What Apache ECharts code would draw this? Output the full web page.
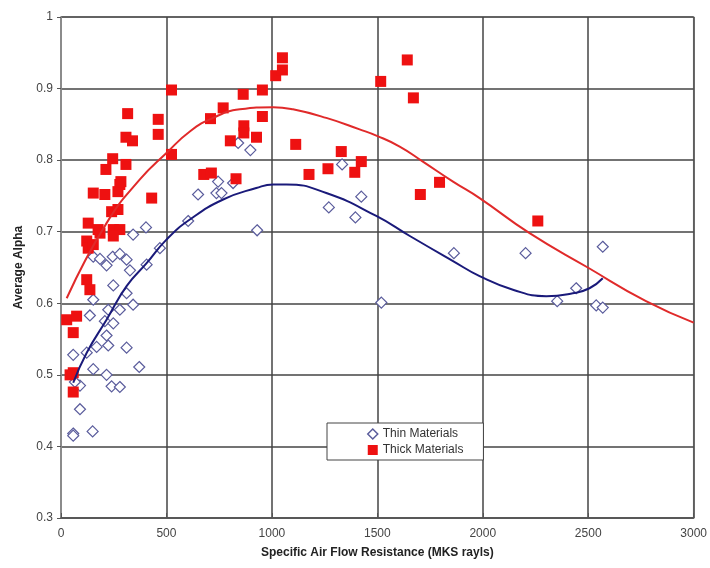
<!DOCTYPE html>
<html>
<head>
<meta charset="utf-8">
<script src="https://cdn.jsdelivr.net/npm/echarts@6/dist/echarts.min.js"></script>
<style>
  html, body { margin: 0; padding: 0; background: #fff; }
  #chart { width: 710px; height: 568px; }
</style>
</head>
<body>
<div id="chart"></div>
<script>
// Thin materials (hollow diamonds): [resistance, alpha]
var thinPoints = [
  [58, 0.528], [122, 0.531], [169, 0.539], [224, 0.541], [311, 0.538],
  [153, 0.508], [216, 0.500], [240, 0.484], [279, 0.483], [371, 0.511],
  [90, 0.485], [90, 0.452], [58, 0.418], [58, 0.415], [150, 0.421], [66, 0.490],
  [153, 0.605], [137, 0.583], [224, 0.591], [279, 0.591], [342, 0.598],
  [311, 0.614], [248, 0.625], [208, 0.575], [248, 0.572], [216, 0.555],
  [153, 0.665], [185, 0.662], [216, 0.653], [245, 0.665], [279, 0.669],
  [311, 0.661], [327, 0.646], [406, 0.654], [342, 0.696], [403, 0.706],
  [469, 0.677], [603, 0.715], [650, 0.752], [737, 0.754], [761, 0.754],
  [745, 0.770], [816, 0.768], [930, 0.702], [840, 0.824], [898, 0.814],
  [1333, 0.794], [1424, 0.749], [1270, 0.734], [1396, 0.720], [1863, 0.670],
  [1519, 0.601], [2203, 0.670], [2569, 0.679], [2443, 0.621], [2353, 0.603],
  [2538, 0.597], [2569, 0.594]
];

// Thick materials (filled squares)
var thickPoints = [
  [27, 0.577], [74, 0.582], [43, 0.500], [58, 0.503], [58, 0.476], [58, 0.559],
  [122, 0.633], [137, 0.619], [129, 0.712], [176, 0.703], [185, 0.698],
  [122, 0.687], [129, 0.677], [153, 0.682], [248, 0.703], [279, 0.703],
  [248, 0.694], [240, 0.728], [270, 0.731], [279, 0.766], [270, 0.756],
  [153, 0.754], [208, 0.752], [430, 0.747], [316, 0.865], [308, 0.832],
  [339, 0.827], [461, 0.857], [461, 0.836], [524, 0.898], [524, 0.808],
  [245, 0.802], [213, 0.787], [308, 0.794], [284, 0.770], [709, 0.858],
  [769, 0.873], [864, 0.892], [955, 0.898], [955, 0.861], [867, 0.848],
  [867, 0.838], [927, 0.832], [803, 0.827], [830, 0.774], [677, 0.780],
  [713, 0.782], [1018, 0.918], [1050, 0.943], [1050, 0.926], [1113, 0.822],
  [1329, 0.812], [1424, 0.798], [1393, 0.783], [1266, 0.788], [1176, 0.780],
  [1516, 0.910], [1642, 0.940], [1671, 0.887], [1795, 0.769], [1704, 0.752],
  [2261, 0.715]
];

// trend lines
var thinTrend = [
  [58, 0.489], [122, 0.531], [216, 0.577], [311, 0.624], [406, 0.656],
  [500, 0.689], [611, 0.717], [769, 0.745], [926, 0.761], [1006, 0.766],
  [1069, 0.766], [1258, 0.754], [1495, 0.722], [1654, 0.694], [1859, 0.659],
  [1985, 0.638], [2143, 0.619], [2301, 0.610], [2427, 0.614], [2506, 0.621],
  [2569, 0.635]
];
var thickTrend = [
  [27, 0.607], [216, 0.712], [374, 0.773], [500, 0.810], [611, 0.840],
  [721, 0.859], [848, 0.871], [1006, 0.874], [1100, 0.871], [1258, 0.859],
  [1416, 0.843], [1498, 0.834], [1606, 0.819], [1716, 0.798], [1859, 0.770],
  [1985, 0.747], [2222, 0.698], [2498, 0.650], [2774, 0.603], [3000, 0.573]
];

var chart = echarts.init(document.getElementById('chart'));
var option = {
  animation: false,
  textStyle: { fontFamily: 'Liberation Sans, Arial, sans-serif' },
  grid: { left: 61, right: 16, top: 17, bottom: 50, show: true, borderColor: '#aaa', borderWidth: 1.5 },
  legend: {
    left: 327, top: 423,
    orient: 'vertical',
    backgroundColor: '#fff',
    borderColor: '#444',
    borderWidth: 1,
    padding: [5, 20, 4, 40],
    itemGap: 4,
    itemWidth: 10, itemHeight: 10,
    textStyle: { fontSize: 12, color: '#333' },
    data: [
      { name: 'Thin Materials', icon: 'diamond', itemStyle: { color: '#fff', borderColor: '#5a5c9c', borderWidth: 1.5 } },
      { name: 'Thick Materials', icon: 'rect', itemStyle: { color: '#ee1111', opacity: 1 } }
    ]
  },
  xAxis: {
    type: 'value', min: 0, max: 3000, interval: 500,
    name: 'Specific Air Flow Resistance (MKS rayls)',
    nameLocation: 'middle', nameGap: 29,
    nameTextStyle: { fontSize: 12, fontWeight: 'bold', color: '#222' },
    axisLine: { show: true, lineStyle: { color: '#555', width: 1.5 } },
    axisTick: { show: true, inside: true, length: 5, lineStyle: { color: '#555' } },
    axisLabel: { fontSize: 12, color: '#444', margin: 10, formatter: function (v) { return String(v); } },
    splitLine: { show: true, lineStyle: { color: '#444', width: 1.5 } }
  },
  yAxis: {
    type: 'value', min: 0.3, max: 1, interval: 0.1,
    name: 'Average Alpha',
    nameLocation: 'middle', nameGap: 36,
    nameTextStyle: { fontSize: 12, fontWeight: 'bold', color: '#222' },
    axisLine: { show: true, lineStyle: { color: '#999', width: 1.5 } },
    axisTick: { show: true, length: 4, lineStyle: { color: '#555' } },
    axisLabel: { fontSize: 12, color: '#444', margin: 8 },
    splitLine: { show: true, lineStyle: { color: '#444', width: 1.5 } }
  },
  series: [
    {
      name: 'Thin Materials', type: 'scatter', data: thinPoints,
      symbol: 'diamond', symbolSize: 11,
      itemStyle: { color: '#fff', borderColor: '#5a5c9c', borderWidth: 1.2, opacity: 1 },
      z: 3
    },
    {
      name: 'Thick Materials', type: 'scatter', data: thickPoints,
      symbol: 'rect', symbolSize: 11,
      itemStyle: { color: '#ee1111', opacity: 1 },
      z: 4
    },
    {
      name: 'thin trend', type: 'line', data: thinTrend, smooth: true,
      showSymbol: false, symbol: 'none',
      lineStyle: { color: '#1a1a7a', width: 2 }, z: 5
    },
    {
      name: 'thick trend', type: 'line', data: thickTrend, smooth: true,
      showSymbol: false, symbol: 'none',
      lineStyle: { color: '#e02a2a', width: 2 }, z: 5
    }
  ]
};
chart.setOption(option);
</script>
</body>
</html>
